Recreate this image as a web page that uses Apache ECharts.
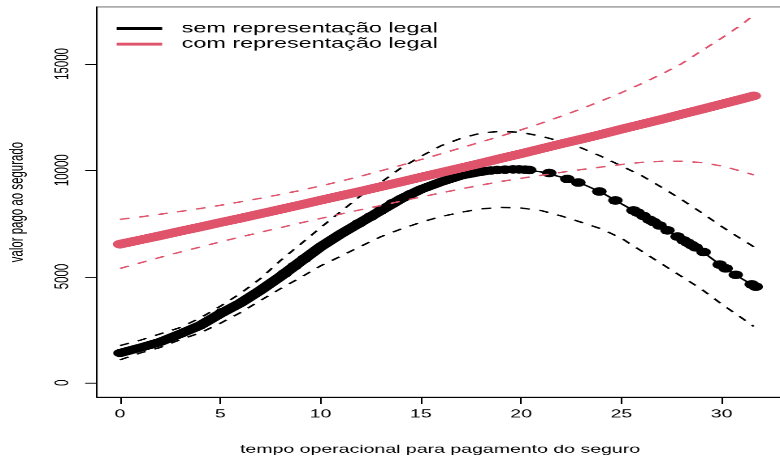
<!DOCTYPE html>
<html>
<head>
<meta charset="utf-8">
<script src="https://cdn.jsdelivr.net/npm/echarts@6/dist/echarts.min.js"></script>
<style>
  html, body { margin: 0; padding: 0; background: #fff; overflow: hidden; }
  #stage { width: 780px; height: 458px; overflow: hidden; position: relative; }
  /* the plot is laid out on a 480x480 device and stretched to the page size */
  #chart { position: absolute; left: 0; top: 0; width: 480px; height: 480px;
           transform: scale(1.625, 0.95417); transform-origin: 0 0; }
</style>
</head>
<body>
<div id="stage"><div id="chart"></div></div>
<script>
// tempo operacional (eixo x) onde as curvas ajustadas foram avaliadas
const tempo = [0, 1, 2, 3, 4, 5, 6, 7, 8, 9, 10, 11, 12, 13, 14, 15, 16, 17, 18, 19, 20,
               21, 22, 23, 24, 25, 26, 27, 28, 29, 30, 31, 31.6];

// sem representação legal: ajuste e limites do intervalo
const semAjuste = [1400, 1650, 1920, 2300, 2700, 3250, 3750, 4350, 5000, 5700, 6400, 7000, 7550,
                   8100, 8650, 9100, 9450, 9750, 9930, 10020, 10040, 9920, 9680, 9380, 8960, 8420,
                   7900, 7350, 6760, 6200, 5500, 4900, 4570];
const semSup = [1750, 2000, 2300, 2600, 3050, 3600, 4200, 4900, 5750, 6520, 7300, 8050, 8800,
                9420, 10100, 10650, 11150, 11500, 11750, 11830, 11780, 11600, 11350, 11050, 10650,
                10200, 9750, 9200, 8620, 8000, 7350, 6750, 6400];
const semInf = [1080, 1400, 1660, 2030, 2350, 2800, 3300, 3870, 4430, 4950, 5500, 5950, 6420,
                6870, 7230, 7550, 7820, 8020, 8180, 8250, 8220, 8100, 7850, 7550, 7240, 6800,
                6200, 5600, 5000, 4400, 3700, 3050, 2650];

// com representação legal: ajuste e limites do intervalo
const comAjuste = [6520, 6720, 6920, 7130, 7330, 7540, 7740, 7950, 8160, 8370, 8590, 8800, 9010,
                   9230, 9450, 9670, 9890, 10110, 10330, 10560, 10780, 11010, 11240, 11460, 11690,
                   11930, 12160, 12390, 12630, 12870, 13110, 13350, 13500];
const comSup = [7690, 7800, 7930, 8060, 8200, 8350, 8510, 8680, 8860, 9050, 9260, 9480, 9720,
                9970, 10230, 10500, 10770, 11050, 11330, 11610, 11900, 12210, 12540, 12890, 13260,
                13650, 14070, 14520, 15010, 15620, 16220, 16850, 17300];
const comInf = [5380, 5640, 5900, 6150, 6390, 6630, 6860, 7080, 7300, 7520, 7730, 7940, 8140,
                8340, 8540, 8740, 8930, 9120, 9300, 9470, 9620, 9760, 9900, 10030, 10150, 10270,
                10370, 10420, 10420, 10360, 10200, 9950, 9780];

// observações isoladas do grupo sem representação legal
const semObsTempo = [5.1, 8.2, 8.7, 9.2, 11.9, 12.5, 13.0, 13.6, 14.5, 17.6, 18.0, 18.2, 18.5, 18.8,
                     19.2, 19.6, 19.9, 20.2, 20.4, 21.4, 22.3, 22.85, 23.9, 24.7, 25.6, 25.8, 26.1,
                     26.4, 26.6, 26.9, 27.3, 27.8, 28.1, 28.3, 28.5, 28.7, 29.1, 29.9, 30.2, 30.7,
                     31.5, 31.7];
const semObsValor = [3320, 5140, 5490, 5840, 7500, 7820, 8110, 8450, 8880, 9870, 9930, 9960, 9990,
                     10010, 10030, 10040, 10040, 10030, 10010, 9870, 9590, 9420, 9000, 8580, 8110,
                     8010, 7850, 7670, 7570, 7400, 7170, 6880, 6700, 6590, 6480, 6370, 6150, 5560,
                     5380, 5080, 4630, 4520];
// trecho em que as observações formam uma faixa contínua
const trechoDenso = 18;

// marcas dos eixos
const xTicks = [0, 5, 10, 15, 20, 25, 30];
const yTicks = [0, 5000, 10000, 15000];

const nomeSem = 'sem representação legal';
const nomeCom = 'com representação legal';
const PRETO = '#000000';
const VERMELHO = '#DF536B';
const FONTE = '"Liberation Sans", Arial, Helvetica, sans-serif';

const pares = (ys) => tempo.map((t, i) => [t, ys[i]]);
const tracejado = (nome, ys, cor) => ({
  name: nome, type: 'line', data: pares(ys), symbol: 'none', silent: true,
  lineStyle: { color: cor, width: 1.5, type: [6, 6] }
});

const chart = echarts.init(document.getElementById('chart'), null, { renderer: 'canvas', devicePixelRatio: 2 });

chart.setOption({
  animation: false,
  backgroundColor: '#ffffff',
  textStyle: { fontFamily: FONTE },
  grid: { left: 59.6, right: -2, top: 7.3, bottom: 63.7, show: true, outerBoundsMode: 'none',
          borderColor: '#666666', borderWidth: 1, backgroundColor: 'transparent' },
  legend: {
    data: [nomeSem, nomeCom], orient: 'vertical', left: 66.8, top: 18,
    icon: 'rect', itemWidth: 28, itemHeight: 3, itemGap: 2.2, selectedMode: false,
    textStyle: { fontFamily: FONTE, fontSize: 14.4, lineHeight: 14, color: '#000', padding: [0, 0, 0, 7] }
  },
  xAxis: {
    type: 'value', min: -1.155, max: 33.07,
    name: 'tempo operacional para pagamento do seguro', nameLocation: 'middle', nameGap: 49,
    nameTextStyle: { fontFamily: FONTE, fontSize: 12, color: '#000' },
    axisLine: { show: true, onZero: false, lineStyle: { color: '#000', width: 1 } },
    axisTick: { show: true, inside: false, length: 7.2, customValues: xTicks, lineStyle: { color: '#000' } },
    axisLabel: { customValues: xTicks, margin: 12, fontFamily: FONTE, fontSize: 12, color: '#000',
                 formatter: v => String(v) },
    splitLine: { show: false }
  },
  yAxis: {
    type: 'value', min: -680, max: 17680,
    name: 'valor pago ao segurado', nameLocation: 'middle', nameGap: 43,
    nameTextStyle: { fontFamily: FONTE, fontSize: 12, color: '#000' },
    axisLine: { show: true, onZero: false, lineStyle: { color: '#000', width: 1 } },
    axisTick: { show: true, inside: false, length: 7.2, customValues: yTicks, lineStyle: { color: '#000' } },
    axisLabel: { customValues: yTicks, rotate: 90, margin: 15, fontFamily: FONTE, fontSize: 12, color: '#000',
                 formatter: v => String(v) },
    splitLine: { show: false }
  },
  series: [
    tracejado('sem_sup', semSup, PRETO),
    tracejado('sem_inf', semInf, PRETO),
    {
      name: nomeSem, type: 'line', data: pares(semAjuste), symbol: 'none', color: PRETO,
      lineStyle: { color: PRETO, width: 1.5 }
    },
    {
      name: 'sem_denso', type: 'line', symbol: 'none', silent: true,
      data: pares(semAjuste).filter(p => p[0] <= trechoDenso),
      lineStyle: { color: PRETO, width: 8.5, cap: 'round', join: 'round' }
    },
    {
      name: 'sem_obs', type: 'scatter', symbol: 'circle', symbolSize: 9, silent: true,
      data: semObsTempo.map((t, i) => [t, semObsValor[i]]),
      itemStyle: { color: PRETO, opacity: 1 }
    },
    tracejado('com_sup', comSup, VERMELHO),
    tracejado('com_inf', comInf, VERMELHO),
    {
      name: nomeCom, type: 'line', data: pares(comAjuste), symbol: 'none', color: VERMELHO,
      lineStyle: { color: VERMELHO, width: 9, cap: 'round', join: 'round' }
    }
  ]
});
</script>
</body>
</html>
